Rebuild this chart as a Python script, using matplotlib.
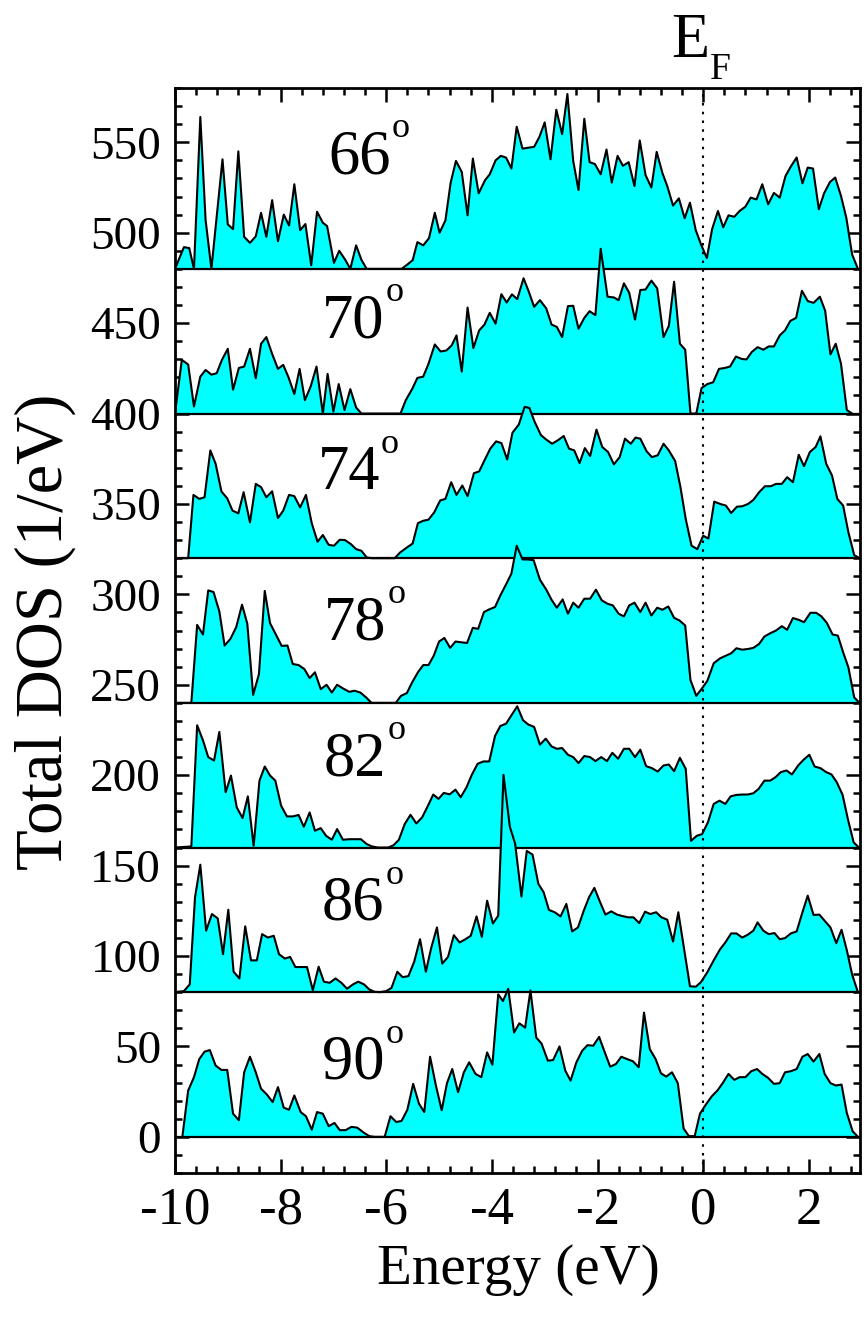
import matplotlib
matplotlib.use("Agg")
import matplotlib.pyplot as plt
from matplotlib.ticker import MultipleLocator
import numpy as np

plt.rcParams['font.family'] = ['Liberation Serif', 'DejaVu Serif']
plt.rcParams['axes.unicode_minus'] = False

# ---------------- data: (energy eV, DOS 1/eV relative to panel baseline) ----------------
angles = ['66', '70', '74', '78', '82', '86', '90']
baselines = [480, 400, 320, 240, 160, 80, 0]

DOS66 = [(-10.0, 0), (-9.83, 12), (-9.73, 11.5), (-9.64, 0), (-9.52, 84), (-9.42, 27), (-9.31, 0),
         (-9.1, 60.6), (-9.0, 24.6), (-8.9, 22), (-8.8, 65), (-8.69, 17.7), (-8.58, 14.4), (-8.47, 18),
         (-8.37, 31), (-8.27, 17.7), (-8.16, 38), (-8.05, 15.3), (-7.94, 30), (-7.84, 24), (-7.74, 46.8),
         (-7.63, 21.4), (-7.53, 24.8), (-7.42, 2), (-7.31, 31.6), (-7.2, 25.5), (-7.12, 23.7), (-6.99, 3.3),
         (-6.89, 10), (-6.78, 5.2), (-6.68, 0), (-6.57, 13), (-6.47, 5), (-6.37, 0), (-5.71, 0), (-5.6, 2.4),
         (-5.5, 4.8), (-5.41, 14.8), (-5.3, 13), (-5.19, 17), (-5.08, 31), (-4.99, 20), (-4.88, 26.8),
         (-4.78, 47.7), (-4.68, 59.7), (-4.57, 53.6), (-4.46, 29.6), (-4.36, 61), (-4.25, 41.8), (-4.13, 49),
         (-4.04, 52.3), (-3.93, 60), (-3.83, 62.5), (-3.73, 61.5), (-3.63, 55.5), (-3.53, 78.6), (-3.42, 66.5),
         (-3.31, 67), (-3.2, 67.5), (-3.1, 73), (-3.0, 81), (-2.89, 60.6), (-2.78, 88), (-2.67, 74.5),
         (-2.57, 96.7), (-2.46, 59.7), (-2.36, 43.6), (-2.25, 83), (-2.15, 59), (-2.05, 58), (-1.94, 52.3),
         (-1.83, 66), (-1.73, 47.7), (-1.62, 62.5), (-1.52, 57), (-1.41, 59), (-1.3, 45.8), (-1.2, 71),
         (-1.09, 51.8), (-0.98, 45), (-0.88, 64.7), (-0.77, 52.9), (-0.68, 45.8), (-0.57, 35), (-0.46, 39),
         (-0.35, 28), (-0.25, 36.6), (-0.14, 21.4), (-0.04, 13.5), (0.07, 6), (0.17, 22), (0.28, 32),
         (0.38, 23), (0.48, 29.6), (0.59, 28.8), (0.69, 32), (0.8, 34.4), (0.9, 39.4), (1.01, 38.4),
         (1.12, 46.8), (1.23, 35.7), (1.34, 42), (1.45, 39.4), (1.56, 51.4), (1.66, 56.6), (1.77, 61.6),
         (1.88, 47.3), (1.98, 56), (2.08, 55.5), (2.19, 33), (2.29, 41.8), (2.4, 48), (2.5, 50.5),
         (2.61, 40.3), (2.71, 28.3), (2.82, 8), (2.93, 0)]

DOS70 = [(-10.0, 0), (-9.87, 29.7), (-9.75, 27.1), (-9.64, 3.9), (-9.52, 20.4), (-9.42, 24.1), (-9.31, 21.5),
         (-9.21, 22.3), (-9.11, 29.7), (-9.0, 35.8), (-8.9, 13.2), (-8.79, 25.2), (-8.69, 26), (-8.58, 35.8),
         (-8.47, 19.5), (-8.37, 38.6), (-8.27, 42.3), (-8.16, 33), (-8.05, 24.7), (-7.95, 26.9), (-7.85, 20),
         (-7.74, 10.8), (-7.64, 24.7), (-7.54, 7.4), (-7.43, 15), (-7.32, 26), (-7.2, 0), (-7.11, 21.9),
         (-7.0, 1.1), (-6.9, 16.3), (-6.79, 1.9), (-6.68, 13.5), (-6.57, 3.3), (-6.47, 0), (-5.73, 0),
         (-5.63, 7.4), (-5.51, 13.5), (-5.41, 19.7), (-5.3, 20.4), (-5.2, 27.5), (-5.08, 38.2), (-4.97, 34.3),
         (-4.86, 34.9), (-4.76, 37.7), (-4.67, 43.2), (-4.57, 23.2), (-4.46, 58.6), (-4.35, 36.2), (-4.24, 46),
         (-4.14, 49.2), (-4.04, 55.7), (-3.93, 49.7), (-3.82, 66), (-3.72, 61.4), (-3.62, 65.9), (-3.52, 63.3),
         (-3.4, 74.8), (-3.3, 67.3), (-3.2, 59), (-3.09, 62.7), (-2.97, 58.1), (-2.87, 49.2), (-2.77, 47.9),
         (-2.67, 42.3), (-2.56, 59.4), (-2.46, 59.6), (-2.36, 46.9), (-2.25, 52.9), (-2.15, 56.6), (-2.04, 54.4),
         (-1.94, 91.1), (-1.81, 64.6), (-1.69, 64.2), (-1.6, 62.7), (-1.5, 72), (-1.4, 66.8), (-1.29, 51.9),
         (-1.19, 68.3), (-1.09, 68.6), (-0.98, 73.5), (-0.87, 69.2), (-0.75, 42.3), (-0.65, 48.4), (-0.55, 72.9),
         (-0.44, 38.6), (-0.34, 35.3), (-0.24, 0), (-0.13, 0), (-0.03, 14.1), (0.08, 16.3), (0.19, 17.3),
         (0.3, 24.7), (0.41, 25.2), (0.51, 26), (0.62, 31.5), (0.73, 30.2), (0.82, 29.9), (0.92, 34),
         (1.03, 36.7), (1.14, 35.3), (1.24, 37.1), (1.34, 37.1), (1.45, 43.2), (1.55, 46), (1.65, 51.2),
         (1.76, 52.9), (1.87, 67.9), (1.98, 62.2), (2.09, 61.2), (2.21, 64.6), (2.31, 56.8), (2.41, 32.7),
         (2.51, 38.6), (2.61, 27.5), (2.72, 1.9), (2.82, 0)]

DOS74 = [(-10.0, 0), (-9.75, 0), (-9.65, 35), (-9.54, 32.8), (-9.44, 33.7), (-9.33, 59.6), (-9.23, 52.2),
         (-9.12, 36.9), (-9.01, 33.1), (-8.91, 26.3), (-8.8, 24.8), (-8.7, 36.5), (-8.58, 19.8), (-8.47, 41.1),
         (-8.37, 39.3), (-8.27, 33.7), (-8.16, 37), (-8.05, 22.2), (-7.95, 26.3), (-7.84, 35), (-7.74, 34.3),
         (-7.63, 28.1), (-7.52, 35), (-7.41, 19.3), (-7.3, 9.1), (-7.2, 12.8), (-7.09, 7.4), (-6.99, 6.9),
         (-6.88, 10.2), (-6.78, 10), (-6.67, 7.8), (-6.57, 5), (-6.47, 4.1), (-6.37, 0.4), (-6.27, 0),
         (-5.84, 0), (-5.74, 3.1), (-5.61, 5.9), (-5.5, 8.1), (-5.4, 19.4), (-5.3, 20.7), (-5.2, 21.3),
         (-5.09, 25.4), (-4.98, 31.9), (-4.88, 32.8), (-4.77, 42), (-4.67, 35), (-4.56, 40.2), (-4.46, 34.3),
         (-4.34, 47), (-4.24, 48), (-4.14, 54.1), (-4.03, 60.6), (-3.92, 64.6), (-3.82, 63.7), (-3.71, 54.6),
         (-3.61, 69.4), (-3.49, 73.9), (-3.38, 83.7), (-3.29, 83.1), (-3.19, 75.4), (-3.07, 68), (-2.97, 65.6),
         (-2.86, 63.3), (-2.75, 65.2), (-2.64, 67.6), (-2.54, 60.6), (-2.44, 59.6), (-2.34, 52.6), (-2.24, 60.9),
         (-2.14, 56.5), (-2.02, 71.1), (-1.91, 61.5), (-1.8, 58.7), (-1.69, 51.9), (-1.58, 55.9), (-1.48, 66.1),
         (-1.37, 63.3), (-1.28, 66.7), (-1.19, 66.1), (-1.07, 59.1), (-0.97, 55.9), (-0.86, 56.9), (-0.75, 63.3),
         (-0.65, 59.6), (-0.53, 53.7), (-0.43, 39.3), (-0.33, 21.7), (-0.22, 6.9), (-0.11, 5), (0.0, 12.4),
         (0.1, 10.9), (0.21, 31.3), (0.32, 30), (0.43, 29.1), (0.53, 25), (0.64, 28.5), (0.74, 28.7),
         (0.85, 30), (0.95, 32.2), (1.06, 36.5), (1.17, 39.8), (1.28, 39.8), (1.38, 41.1), (1.49, 41.1),
         (1.59, 44.8), (1.7, 42), (1.81, 57.2), (1.91, 50.9), (2.02, 58.7), (2.13, 61.5), (2.22, 67.4),
         (2.33, 52.2), (2.44, 45.7), (2.54, 32.8), (2.65, 29.1), (2.75, 14.3), (2.86, 1.7), (2.96, 0)]

DOS78 = [(-10.0, 0), (-9.69, 0), (-9.58, 43.1), (-9.47, 37.8), (-9.37, 62.2), (-9.27, 61.3), (-9.16, 50.6),
         (-9.06, 31.7), (-8.95, 35.4), (-8.84, 41.9), (-8.73, 54.3), (-8.63, 43.7), (-8.52, 4.4), (-8.41, 15.9),
         (-8.3, 61.9), (-8.2, 44.1), (-8.09, 37.8), (-7.98, 31.5), (-7.87, 31.7), (-7.77, 21.5), (-7.66, 20.9),
         (-7.55, 18.7), (-7.45, 13.7), (-7.35, 16.9), (-7.24, 7.6), (-7.13, 10), (-7.03, 5.7), (-6.93, 10),
         (-6.82, 8), (-6.7, 6.1), (-6.6, 6.7), (-6.49, 5.7), (-6.38, 3), (-6.28, 0), (-5.82, 0), (-5.72, 3.9),
         (-5.61, 5.4), (-5.51, 11.3), (-5.4, 16.9), (-5.3, 20.9), (-5.2, 20.9), (-5.1, 26.1), (-5.0, 33.9),
         (-4.9, 35.9), (-4.79, 30.4), (-4.69, 33.9), (-4.58, 33.5), (-4.47, 33.1), (-4.36, 41.5), (-4.26, 40.9),
         (-4.15, 50.2), (-4.05, 51.7), (-3.94, 53), (-3.84, 59.4), (-3.73, 65.6), (-3.63, 71.5), (-3.53, 86.9),
         (-3.42, 79.3), (-3.32, 79.3), (-3.21, 78.9), (-3.09, 68.1), (-2.97, 62.6), (-2.87, 57), (-2.77, 52.6),
         (-2.66, 57.2), (-2.56, 49.3), (-2.46, 55.4), (-2.36, 52.6), (-2.25, 57.6), (-2.14, 57.6), (-2.03, 62.6),
         (-1.92, 56.7), (-1.81, 54.8), (-1.71, 53.9), (-1.6, 49.3), (-1.5, 47.8), (-1.4, 53.9), (-1.3, 55.4),
         (-1.19, 50.2), (-1.09, 55.4), (-0.98, 48.3), (-0.87, 52.6), (-0.77, 51.5), (-0.66, 53.3), (-0.55, 47),
         (-0.45, 45.6), (-0.34, 42.8), (-0.24, 12.6), (-0.13, 3.9), (-0.02, 8.1), (0.08, 12.2), (0.2, 21.9),
         (0.32, 24.6), (0.43, 26.1), (0.53, 27.4), (0.63, 30.2), (0.74, 29.4), (0.85, 29.8), (0.95, 30.4),
         (1.06, 32.6), (1.16, 36.7), (1.27, 38.5), (1.38, 40), (1.49, 42.4), (1.59, 40.4), (1.7, 46.9),
         (1.81, 45.9), (1.91, 44.6), (2.03, 49.8), (2.14, 49.8), (2.24, 47.8), (2.34, 44.3), (2.45, 37.8),
         (2.55, 37.2), (2.65, 28), (2.75, 19.6), (2.86, 3), (2.96, 0)]

DOS82 = [(-10.0, 0), (-9.69, 0.6), (-9.58, 67.6), (-9.47, 59.3), (-9.37, 50), (-9.26, 48.1), (-9.16, 63.9),
         (-9.04, 30.6), (-8.94, 39.8), (-8.83, 22.2), (-8.72, 16.3), (-8.62, 28.3), (-8.51, 0.9), (-8.4, 37),
         (-8.3, 44.8), (-8.2, 39.8), (-8.1, 37), (-7.99, 23.1), (-7.88, 17.2), (-7.77, 17.2), (-7.66, 18),
         (-7.56, 11.5), (-7.45, 19.4), (-7.35, 9.3), (-7.24, 10.7), (-7.14, 6.5), (-7.03, 4.3), (-6.93, 10.2),
         (-6.82, 4.3), (-6.7, 4.6), (-6.59, 4.6), (-6.48, 4.6), (-6.37, 1.9), (-6.27, 0.6), (-6.16, 0),
         (-5.96, 0), (-5.86, 1.3), (-5.76, 4.3), (-5.65, 13), (-5.54, 18.1), (-5.43, 13.3), (-5.32, 16.7),
         (-5.21, 23.1), (-5.11, 29.3), (-5.01, 26.9), (-4.91, 30.2), (-4.8, 29.4), (-4.69, 32), (-4.59, 27.8),
         (-4.48, 33.3), (-4.38, 40.2), (-4.27, 46.3), (-4.16, 47.6), (-4.05, 47.6), (-3.94, 61.7), (-3.84, 67.2),
         (-3.73, 68.5), (-3.63, 73.1), (-3.52, 78.1), (-3.41, 70.4), (-3.31, 68), (-3.2, 66.7), (-3.09, 56.9),
         (-2.98, 60.2), (-2.87, 55.9), (-2.77, 54.6), (-2.67, 55), (-2.56, 51.3), (-2.46, 50), (-2.36, 46.7),
         (-2.25, 50.6), (-2.14, 50), (-2.04, 47.8), (-1.93, 50), (-1.82, 47.8), (-1.72, 52.4), (-1.61, 49.1),
         (-1.5, 54.6), (-1.4, 54.6), (-1.29, 50), (-1.19, 54.1), (-1.08, 45), (-0.97, 43.9), (-0.86, 42),
         (-0.75, 45.4), (-0.65, 45.9), (-0.55, 42.2), (-0.44, 49.6), (-0.33, 43.5), (-0.23, 3.7), (-0.12, 6.5),
         (-0.02, 7.4), (0.09, 13.9), (0.2, 24.1), (0.31, 25.9), (0.42, 24.1), (0.52, 28.3), (0.63, 29.1),
         (0.74, 29.3), (0.84, 29.3), (0.95, 30), (1.05, 32.4), (1.16, 37), (1.27, 37), (1.37, 38.9),
         (1.47, 41.7), (1.58, 42.6), (1.68, 40.4), (1.8, 45.4), (1.9, 48.5), (2.01, 51.3), (2.11, 44.8),
         (2.22, 43.9), (2.33, 41.7), (2.43, 40.4), (2.53, 36.1), (2.64, 29.1), (2.74, 15.7), (2.85, 2.8),
         (2.95, 0)]

DOS86 = [(-10.0, 0), (-9.83, 0.6), (-9.72, 4.3), (-9.62, 52.5), (-9.52, 70.5), (-9.41, 34), (-9.3, 43.2),
         (-9.19, 40.8), (-9.09, 21), (-8.99, 45.6), (-8.89, 11.3), (-8.78, 7.6), (-8.67, 36.4), (-8.56, 17.6),
         (-8.45, 17.6), (-8.35, 32.1), (-8.24, 30.2), (-8.13, 31.2), (-8.03, 21), (-7.92, 18.6), (-7.82, 19.5),
         (-7.72, 13.9), (-7.6, 13.9), (-7.5, 13.9), (-7.39, 1.1), (-7.28, 14.1), (-7.18, 5.8), (-7.07, 5.2),
         (-6.96, 7.6), (-6.85, 5.2), (-6.74, 1.9), (-6.63, 4.3), (-6.53, 5.8), (-6.42, 4.3), (-6.32, 1.5),
         (-6.22, 0.2), (-6.12, 0), (-6.0, 0.6), (-5.9, 2.4), (-5.79, 11.3), (-5.69, 8.3), (-5.58, 8.9),
         (-5.47, 16.9), (-5.36, 29.3), (-5.25, 11.3), (-5.15, 24.3), (-5.04, 35.8), (-4.94, 15.8), (-4.83, 19.5),
         (-4.72, 31.5), (-4.61, 27.5), (-4.5, 29.3), (-4.4, 31.2), (-4.29, 41.9), (-4.19, 30.6), (-4.09, 50.6),
         (-3.98, 38), (-3.88, 42.3), (-3.78, 120.2), (-3.66, 91.5), (-3.56, 82.2), (-3.44, 52.9), (-3.34, 78.1),
         (-3.23, 76.1), (-3.12, 59.9), (-3.02, 55.3), (-2.92, 45.5), (-2.81, 44.2), (-2.7, 41.9), (-2.59, 48.8),
         (-2.48, 33.6), (-2.37, 35.8), (-2.26, 45.1), (-2.16, 52.5), (-2.06, 57.7), (-1.95, 49.7), (-1.85, 42.9),
         (-1.74, 44.7), (-1.63, 42.9), (-1.53, 42.1), (-1.42, 41.4), (-1.32, 41.4), (-1.21, 38.2), (-1.1, 44.5),
         (-1.0, 43.2), (-0.89, 44.2), (-0.79, 41.4), (-0.68, 40.1), (-0.57, 28), (-0.47, 44.2), (-0.35, 21.9),
         (-0.25, 3.3), (-0.14, 3), (-0.04, 5.6), (0.08, 11.1), (0.2, 17.6), (0.32, 23.7), (0.42, 27.5),
         (0.53, 32.5), (0.63, 32.5), (0.74, 30.2), (0.84, 31.7), (0.95, 34), (1.03, 38.6), (1.14, 34),
         (1.24, 32.1), (1.35, 32.7), (1.45, 29.3), (1.55, 29.9), (1.66, 32.5), (1.77, 33.6), (1.88, 44.2),
         (1.98, 53.4), (2.09, 42.7), (2.2, 42.9), (2.3, 39.5), (2.41, 35.8), (2.52, 27.1), (2.62, 34.5),
         (2.72, 23.2), (2.82, 9.8), (2.93, 0)]

DOS90 = [(-9.86, 0), (-9.75, 25.6), (-9.64, 33), (-9.54, 43), (-9.44, 47.1), (-9.34, 48), (-9.23, 39.4),
         (-9.12, 37), (-9.01, 37), (-8.9, 12.8), (-8.79, 9.2), (-8.69, 35.7), (-8.58, 44.3), (-8.47, 35.7),
         (-8.37, 26.6), (-8.26, 23.4), (-8.15, 19.2), (-8.05, 27.5), (-7.94, 16.1), (-7.84, 15), (-7.74, 22.9),
         (-7.62, 13.7), (-7.52, 11.4), (-7.41, 4), (-7.31, 13.7), (-7.2, 12.8), (-7.09, 5.9), (-6.98, 7.7),
         (-6.88, 3.7), (-6.77, 3.7), (-6.66, 5.5), (-6.55, 5.1), (-6.43, 2.4), (-6.32, 0.4), (-6.22, 0),
         (-6.03, 0), (-5.92, 11.4), (-5.81, 8.2), (-5.71, 8.8), (-5.6, 15), (-5.49, 29.3), (-5.38, 18.3),
         (-5.28, 13.7), (-5.17, 44.3), (-5.06, 28.4), (-4.95, 14.7), (-4.85, 29.7), (-4.75, 37.5), (-4.64, 24.7),
         (-4.53, 35.7), (-4.43, 41.2), (-4.31, 34.8), (-4.2, 33), (-4.09, 46.7), (-3.99, 39.9), (-3.88, 78.8),
         (-3.79, 75.1), (-3.69, 81.9), (-3.58, 57.7), (-3.48, 62.8), (-3.37, 60.4), (-3.27, 81), (-3.16, 54.9),
         (-3.06, 51.6), (-2.94, 42.1), (-2.84, 42.5), (-2.72, 50), (-2.61, 36.6), (-2.51, 31.1), (-2.4, 41.2),
         (-2.29, 47.6), (-2.19, 50.7), (-2.08, 50.4), (-1.97, 55.3), (-1.87, 47.3), (-1.76, 38.8), (-1.65, 40.3),
         (-1.55, 44.3), (-1.44, 43), (-1.33, 41.8), (-1.22, 38.5), (-1.12, 68.7), (-1.01, 48.5), (-0.9, 43),
         (-0.8, 35.2), (-0.7, 33.3), (-0.59, 35.7), (-0.48, 29.7), (-0.37, 4.6), (-0.27, 0.4), (-0.16, 0.4),
         (-0.06, 12.8), (0.05, 17.8), (0.16, 22.3), (0.27, 25.6), (0.37, 29.7), (0.48, 34.8), (0.59, 31.5),
         (0.69, 33), (0.8, 33), (0.91, 36.3), (1.02, 37.5), (1.12, 34.8), (1.23, 32.6), (1.34, 29.3),
         (1.45, 29.7), (1.55, 35.7), (1.66, 36.3), (1.77, 37.5), (1.88, 44.3), (1.98, 45.8), (2.09, 41.6),
         (2.2, 45.8), (2.3, 34.8), (2.41, 29.7), (2.51, 28.4), (2.62, 28.9), (2.72, 13.2), (2.83, 3.1),
         (2.93, 0)]

panels = [DOS66, DOS70, DOS74, DOS78, DOS82, DOS86, DOS90]
x_ticks = [-10, -8, -6, -4, -2, 0, 2]
y_ticks = list(range(0, 551, 50))

# ---------------- layout / style ----------------
label_right = [-5.91, -6.04, -6.12, -6.0, -6.0, -6.04, -6.04]   # right edge of angle numbers (eV)
label_base = [53, 42, 38, 35, 40, 40, 32]                         # baseline height above panel base
sup_raise = 20
fill_color = '#00FFFF'

fig = plt.figure(figsize=(8.64, 13.22), dpi=100)
ax = fig.add_axes([0.2025, 0.1127, 0.7929, 0.8207])

for i, (ang, base, pts) in enumerate(zip(angles, baselines, panels)):
    E = np.array([p[0] for p in pts])
    D = np.array([p[1] for p in pts])
    z = 2 + i
    ax.fill_between(E, base, base + D, facecolor=fill_color, edgecolor='none', zorder=z)
    ax.plot(E, base + D, color='k', lw=1.5, zorder=z + 0.5)
    ax.axhline(base, color='k', lw=1.6, zorder=z + 0.5)
    ax.text(label_right[i], base + label_base[i], ang, fontsize=45,
            ha='right', va='baseline', zorder=20)
    ax.text(label_right[i] + 0.02, base + label_base[i] + sup_raise, 'o', fontsize=26,
            ha='left', va='baseline', zorder=20)

ax.axvline(0, color='k', lw=1.5, ls=(0, (1.2, 3)), zorder=30)

ax.set_xlim(-10, 2.97)
ax.set_ylim(-20, 580)
ax.set_xticks(x_ticks)
ax.set_yticks(y_ticks)
ax.xaxis.set_minor_locator(MultipleLocator(0.4))
ax.yaxis.set_minor_locator(MultipleLocator(10))
ax.tick_params(which='both', direction='in', top=True, right=True, width=1.8, pad=10)
ax.tick_params(axis='x', labelsize=38)
ax.tick_params(axis='y', labelsize=34)
ax.tick_params(which='major', length=10)
ax.tick_params(which='minor', length=5)
for s in ax.spines.values():
    s.set_linewidth(2.0)
    s.set_zorder(40)

ax.text(-0.6, 597, 'E', fontsize=45, ha='left', va='baseline', clip_on=False)
ax.text(0.12, 585, 'F', fontsize=27, ha='left', va='baseline', clip_on=False)

fig.text(0.052, 0.522, 'Total DOS (1/eV)', rotation=90, ha='center', va='center', fontsize=48)
fig.text(0.5995, 0.039, 'Energy (eV)', ha='center', va='center', fontsize=41)

fig.savefig('out.png', dpi=100)
